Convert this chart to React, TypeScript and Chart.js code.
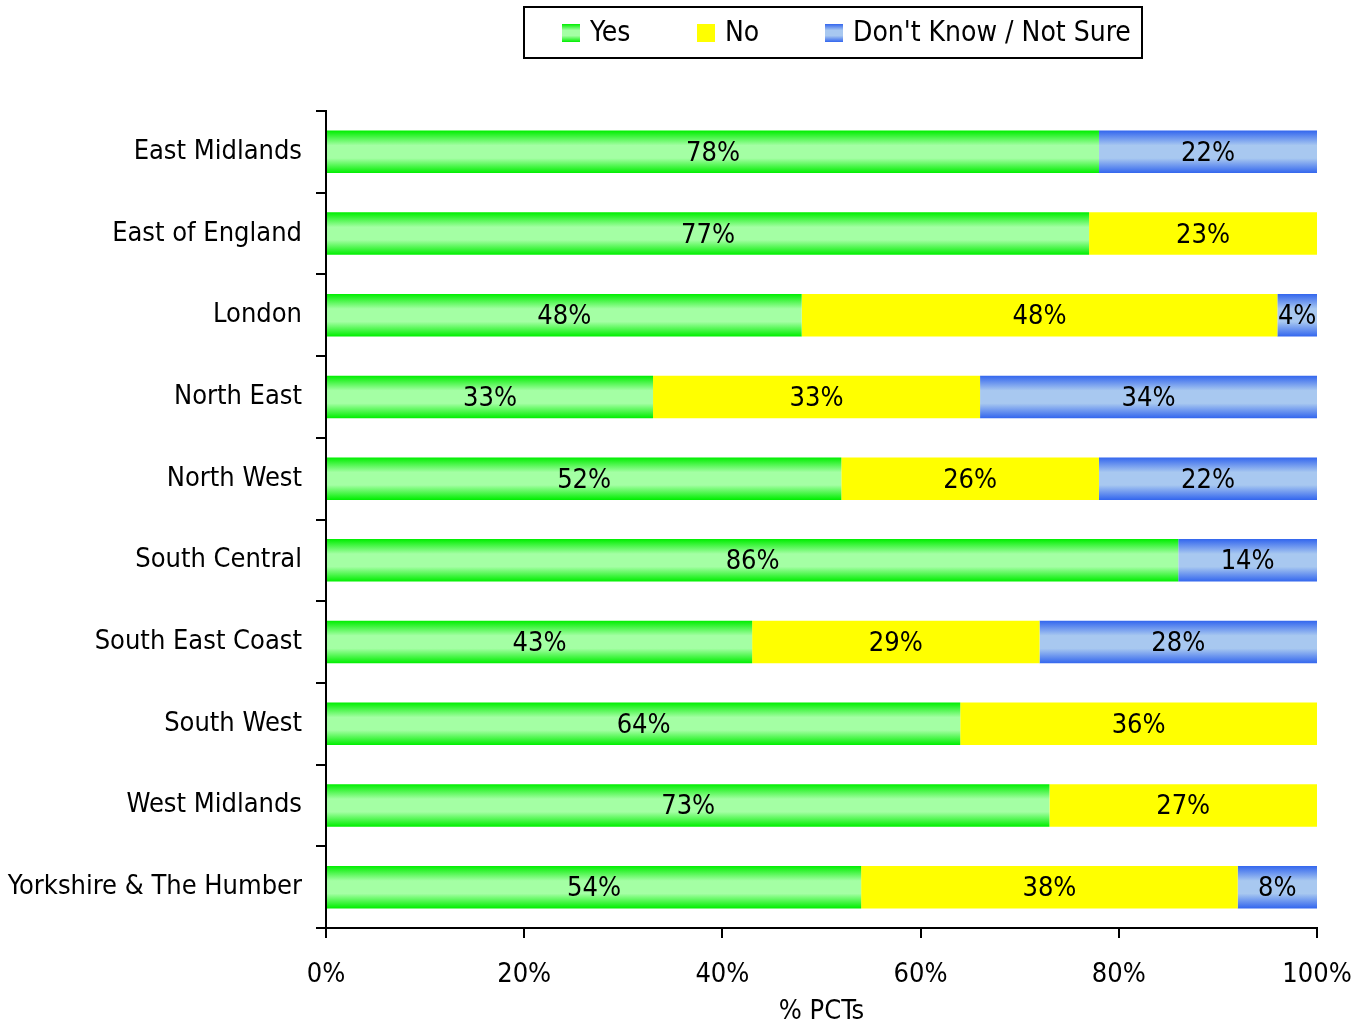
import React, { useEffect, useRef } from "react";
import { Chart, registerables } from "chart.js";

Chart.register(...registerables);

const categories = [
  "East Midlands",
  "East of England",
  "London",
  "North East",
  "North West",
  "South Central",
  "South East Coast",
  "South West",
  "West Midlands",
  "Yorkshire & The Humber",
];
const yesValues = [78, 77, 48, 33, 52, 86, 43, 64, 73, 54];
const noValues = [0, 23, 48, 33, 26, 0, 29, 36, 27, 38];
const dkValues = [22, 0, 4, 34, 22, 14, 28, 0, 0, 8];
const xTicks = [0, 20, 40, 60, 80, 100];
const seriesNames = ["Yes", "No", "Don't Know / Not Sure"];

const FONT = '"Liberation Sans Narrow", "Arial Narrow", "DejaVu Sans Condensed", sans-serif';
const BAR_PCT = 0.52;

type Stops = [number, string][];
const greenStops: Stops = [
  [0, "#00ee00"],
  [0.35, "#a4ffa4"],
  [0.65, "#a4ffa4"],
  [1, "#00ee00"],
];
const blueStops: Stops = [
  [0, "#3366ee"],
  [0.35, "#a8c8f0"],
  [0.65, "#a8c8f0"],
  [1, "#3366ee"],
];

function gradFill(stops: Stops, fallback: string) {
  return (ctx: any) => {
    const chart = ctx.chart;
    const y = chart.scales && chart.scales.y;
    if (!chart.chartArea || !y || ctx.dataIndex === undefined) return fallback;
    const yc = y.getPixelForValue(ctx.dataIndex);
    const h = (y.height / categories.length) * BAR_PCT;
    const g = chart.ctx.createLinearGradient(0, yc - h / 2, 0, yc + h / 2);
    stops.forEach(([o, c]) => g.addColorStop(o, c));
    return g;
  };
}

const labelPlugin = {
  id: "segLabels",
  afterDatasetsDraw(chart: any) {
    const ctx = chart.ctx;
    ctx.save();
    ctx.font = `27px ${FONT}`;
    ctx.fillStyle = "#000";
    ctx.textAlign = "center";
    ctx.textBaseline = "middle";
    chart.data.datasets.forEach((ds: any, di: number) => {
      const meta = chart.getDatasetMeta(di);
      meta.data.forEach((el: any, i: number) => {
        const v = ds.data[i];
        if (!v) return;
        const { x, y, base } = el.getProps(["x", "y", "base"], true);
        ctx.fillText(`${v}%`, (x + base) / 2, y + 2);
      });
    });
    ctx.restore();
  },
};

const legendPlugin = {
  id: "boxLegend",
  afterDraw(chart: any) {
    const ctx = chart.ctx;
    ctx.save();
    ctx.lineWidth = 2;
    ctx.strokeStyle = "#000";
    ctx.strokeRect(524, 7, 618, 51);
    ctx.font = `28px ${FONT}`;
    ctx.textBaseline = "middle";
    ctx.textAlign = "left";
    const boxX = [562, 697, 825];
    const fills = [greenStops, null, blueStops];
    seriesNames.forEach((name, i) => {
      const bx = boxX[i];
      const by = 24;
      const s = fills[i];
      if (s) {
        const g = ctx.createLinearGradient(0, by, 0, by + 18);
        s.forEach(([o, c]) => g.addColorStop(o, c));
        ctx.fillStyle = g;
      } else {
        ctx.fillStyle = "#ffff00";
      }
      ctx.fillRect(bx, by, 18, 18);
      ctx.fillStyle = "#000";
      ctx.fillText(name, bx + 28, 34);
    });
    ctx.restore();
  },
};

export default function App() {
  const ref = useRef<HTMLCanvasElement>(null);
  useEffect(() => {
    if (!ref.current) return;
    const chart = new Chart(ref.current, {
      type: "bar",
      data: {
        labels: categories,
        datasets: [
          { label: seriesNames[0], data: yesValues, backgroundColor: gradFill(greenStops, "#00ee00") as any },
          { label: seriesNames[1], data: noValues, backgroundColor: "#ffff00" },
          { label: seriesNames[2], data: dkValues, backgroundColor: gradFill(blueStops, "#3366ee") as any },
        ],
      },
      options: {
        indexAxis: "y",
        responsive: false,
        animation: false,
        datasets: { bar: { categoryPercentage: 1, barPercentage: BAR_PCT, borderWidth: 0 } },
        layout: { padding: { top: 111, right: 35, left: 0, bottom: 0 } },
        plugins: { legend: { display: false }, tooltip: { enabled: false } },
        scales: {
          x: {
            stacked: true,
            min: 0,
            max: 100,
            afterBuildTicks: (s: any) => {
              s.ticks = xTicks.map((v) => ({ value: v }));
            },
            afterFit: (s: any) => {
              s.height = 97;
              s.paddingLeft = 0;
              s.paddingRight = 0;
            },
            ticks: {
              color: "#000",
              font: { family: FONT, size: 27 },
              padding: 21,
              maxRotation: 0,
              callback: (v: any) => `${v}%`,
            },
            grid: { drawOnChartArea: false, drawTicks: true, tickLength: 10, color: "#000", lineWidth: 2 },
            border: { display: true, color: "#000", width: 2 },
            title: {
              display: true,
              text: "% PCTs",
              color: "#000",
              font: { family: FONT, size: 27 },
              padding: { top: 0, bottom: -3 },
            },
          },
          y: {
            stacked: true,
            afterFit: (s: any) => {
              s.width = 326;
              s.paddingTop = 0;
              s.paddingBottom = 0;
            },
            ticks: { color: "#000", font: { family: FONT, size: 27 }, padding: 14 },
            grid: { offset: true, drawOnChartArea: false, drawTicks: true, tickLength: 10, color: "#000", lineWidth: 2 },
            border: { display: true, color: "#000", width: 2 },
          },
        },
      },
      plugins: [labelPlugin, legendPlugin],
    });
    return () => chart.destroy();
  }, []);
  return (
    <div style={{ position: "fixed", left: 0, top: 0, width: 1352, height: 1025, background: "#fff" }}>
      <canvas ref={ref} width={1352} height={1025} style={{ display: "block" }} />
    </div>
  );
}
